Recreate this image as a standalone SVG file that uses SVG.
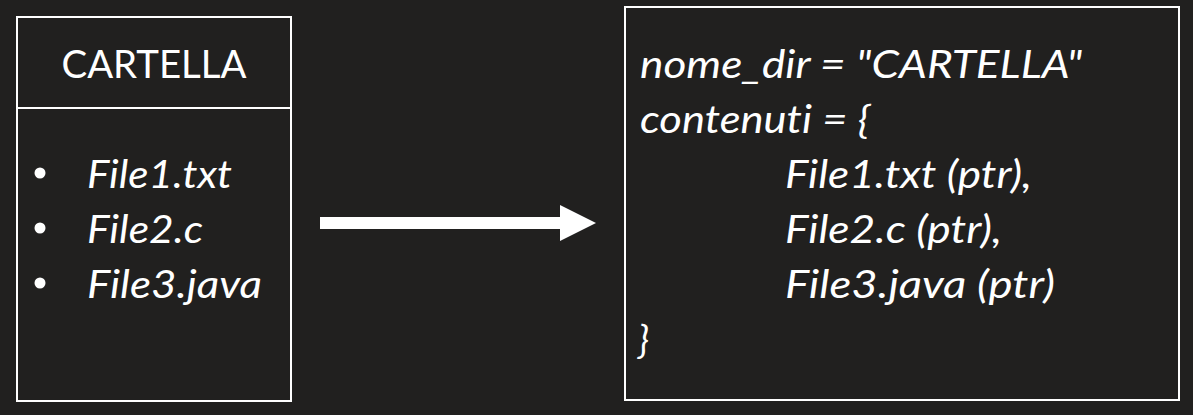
<svg xmlns="http://www.w3.org/2000/svg" width="1193" height="415" viewBox="0 0 1193 415">
  <defs>
    <style>
      .box { fill: none; stroke: #ffffff; stroke-width: 2; }
      .t { fill: #ffffff; font-family: Lato, "Open Sans", "Liberation Sans", sans-serif; font-size: 39px; font-variant-ligatures: none; font-feature-settings: "liga" 0, "clig" 0, "dlig" 0; }
      .i { font-style: italic; }
    </style>
  </defs>
  <rect x="0" y="0" width="1193" height="415" fill="#21201f"/>

  <g id="node-cartella">
    <rect class="box" x="17" y="17" width="274" height="384"/>
    <line class="box" x1="17" y1="108" x2="291" y2="108"/>
    <text class="t" x="154" y="78" text-anchor="middle" textLength="185" lengthAdjust="spacingAndGlyphs">CARTELLA</text>
    <circle cx="40" cy="173" r="5.5" fill="#ffffff"/>
    <circle cx="40" cy="228" r="5.5" fill="#ffffff"/>
    <circle cx="40" cy="283" r="5.5" fill="#ffffff"/>
    <text class="t i" x="87" y="188" textLength="145" lengthAdjust="spacingAndGlyphs">File1.txt</text>
    <text class="t i" x="87" y="243" textLength="116" lengthAdjust="spacingAndGlyphs">File2.c</text>
    <text class="t i" x="87" y="298" textLength="175" lengthAdjust="spacingAndGlyphs">File3.java</text>
  </g>

  <g id="connectors">
    <rect x="320" y="217" width="241" height="12" fill="#ffffff"/>
    <polygon points="560,205 596,223 560,241" fill="#ffffff"/>
  </g>

  <g id="node-struct">
    <rect class="box" x="625" y="7" width="554" height="393"/>
    <text class="t i" x="640" y="78" textLength="442" lengthAdjust="spacingAndGlyphs">nome_dir = "CARTELLA"</text>
    <text class="t i" x="640" y="133" textLength="230" lengthAdjust="spacingAndGlyphs">contenuti = {</text>
    <text class="t i" x="785" y="188" textLength="247" lengthAdjust="spacingAndGlyphs">File1.txt (ptr),</text>
    <text class="t i" x="785" y="243" textLength="217" lengthAdjust="spacingAndGlyphs">File2.c (ptr),</text>
    <text class="t i" x="785" y="298" textLength="270" lengthAdjust="spacingAndGlyphs">File3.java (ptr)</text>
    <text class="t i" x="638" y="353">}</text>
  </g>
</svg>
